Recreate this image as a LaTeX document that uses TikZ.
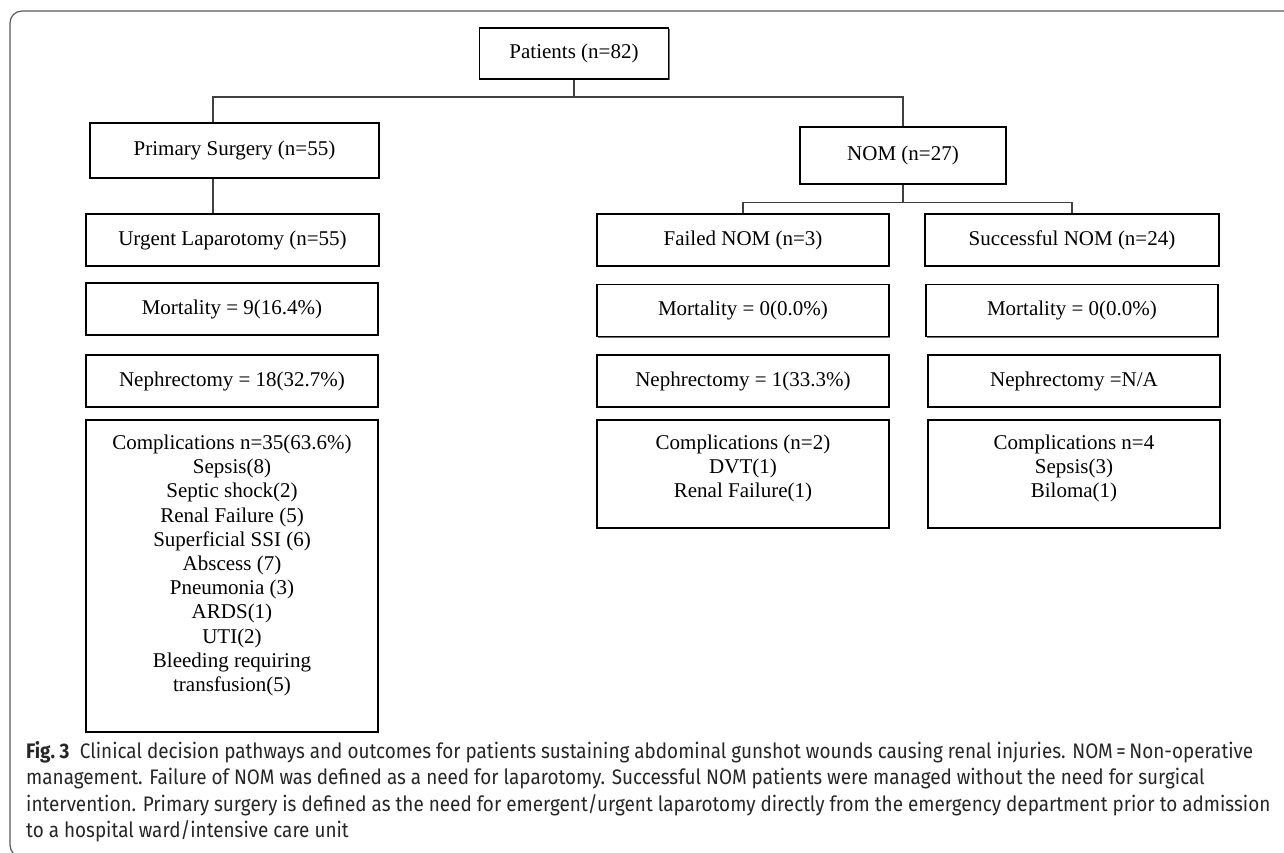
\documentclass[tikz,border=0pt]{standalone}
\usepackage{fontspec}
\setmainfont{Liberation Serif}
\newfontfamily\capfont[FakeStretch=0.90]{Fira Sans}
\usetikzlibrary{calc,shadows}

\tikzset{
  box/.style={draw, line width=1.4pt, fill=white, inner sep=0pt,
    minimum width=292pt, minimum height=52pt,
    font=\fontsize{21}{24.2}\selectfont,
    drop shadow={shadow xshift=1pt, shadow yshift=-1.2pt, fill=black!55, opacity=1}},
  link/.style={draw=black!75, line width=1.2pt},
}
% top aligned text in a tall box
\newcommand{\toptext}[3]{\parbox[c][#1][t]{#2}{\centering\vspace*{15pt}#3}}

\begin{document}
\begin{tikzpicture}[x=1pt, y=-1pt]
    \useasboundingbox (0,0) rectangle (1284,852);
    \clip (0,0) rectangle (1284,852);

    % Frame
    \draw[black!65, line width=1.2pt, rounded corners=12pt] (10,11) rectangle (1320,857);

    % Top levels
    \node[box, minimum width=189pt, minimum height=51pt] (pat) at (574,53.5) {Patients (n=82)};
    \node[box, minimum width=289pt, minimum height=55pt] (ps) at (234.5,150.5) {Primary Surgery (n=55)};
    \node[box, minimum width=206pt, minimum height=57pt] (nom) at (903,155.5) {NOM (n=27)};

    % Branches
    \node[box, minimum width=293pt] (ul) at (232.5,240) {Urgent Laparotomy (n=55)};
    \node[box] (fn) at (743,240) {Failed NOM (n=3)};
    \node[box, minimum width=294pt] (sn) at (1072,240) {Successful NOM (n=24)};

    % Outcomes
    \node[box] (ml) at (232,309) {Mortality = 9(16.4\%)};
    \node[box] (mf) at (743,310.5) {Mortality = 0(0.0\%)};
    \node[box] (ms) at (1072,310.5) {Mortality = 0(0.0\%)};
    \node[box] (nl) at (232,381) {Nephrectomy = 18(32.7\%)};
    \node[box] (nf) at (743,381) {Nephrectomy = 1(33.3\%)};
    \node[box] (nsn) at (1074,381) {Nephrectomy =N/A};

    % Complications
    \node[box] (cl) at (232,576) {\toptext{312pt}{292pt}{Complications n=35(63.6\%)\\
        Sepsis(8)\\ Septic shock(2)\\ Renal Failure (5)\\ Superficial SSI (6)\\
        Abscess (7)\\ Pneumonia (3)\\ ARDS(1)\\ UTI(2)\\
        Bleeding requiring\\ transfusion(5)}};
    \node[box] (cf) at (743,474) {\toptext{108pt}{292pt}{Complications (n=2)\\
        DVT(1)\\ Renal Failure(1)}};
    \node[box] (cs) at (1074,474) {\toptext{108pt}{292pt}{Complications n=4\\
        Sepsis(3)\\ Biloma(1)}};

    % Connectors
    \coordinate (lx) at (213,97);
    \draw[link] (pat.south) -- (pat.south |- lx) coordinate (top);
    \draw[link] (lx |- ps.north) -- (lx) -- (top) -- (nom.north |- lx) -- (nom.north);
    \draw[link] (lx |- ps.south) -- (lx |- ul.north);
    \draw[link] (nom.south) -- ++(0,18) coordinate (nj);
    \draw[link] (fn.north) |- (nj) -| (sn.north);

    % Caption
    \node[anchor=north west, inner sep=0pt, align=left, text=black!85,
        font=\capfont\fontsize{21}{26.5}\selectfont] (cap) at (26,741) {%
        \textbf{Fig.~3}\enspace Clinical decision pathways and outcomes for patients sustaining abdominal gunshot wounds causing renal injuries. NOM\,=\,Non-operative\\
        management. Failure of NOM was defined as a need for laparotomy. Successful NOM patients were managed without the need for surgical\\
        intervention. Primary surgery is defined as the need for emergent/urgent laparotomy directly from the emergency department prior to admission\\
        to a hospital ward/intensive care unit};
\end{tikzpicture}
\end{document}
